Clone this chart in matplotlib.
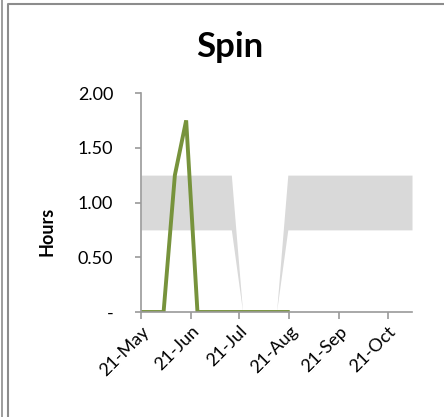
import matplotlib
matplotlib.use("Agg")
import matplotlib.pyplot as plt
import matplotlib.dates as mdates
from matplotlib.ticker import FuncFormatter
from matplotlib.lines import Line2D
import pandas as pd

# ---- data ----
title = "Spin"
ylabel = "Hours"
dates = pd.date_range("2013-05-21", periods=25, freq="7D")
band_low = [0.75]*9 + [0.0]*4 + [0.75]*12
band_height = [0.5]*9 + [0.0]*4 + [0.5]*12
actual = [0, 0, 0, 1.25, 1.75, 0, 0, 0, 0, 0, 0, 0, 0, 0]
tick_dates = pd.to_datetime(["2013-05-21", "2013-06-21", "2013-07-21",
                             "2013-08-21", "2013-09-21", "2013-10-21"])
yticks = [0, 0.5, 1.0, 1.5, 2.0]

W, H = 444, 417
fig = plt.figure(figsize=(W/100, H/100), dpi=100)
plt.rcParams['font.family'] = ['Lato', 'DejaVu Sans']

ax = fig.add_axes([141/W, 1-312/H, (412-141)/W, (312-93)/H])

upper = [l + h for l, h in zip(band_low, band_height)]
ax.fill_between(dates, band_low, upper, color="#D9D9D9", linewidth=0)
ax.plot(dates[:len(actual)], actual, color="#77933C", lw=2.8, solid_joinstyle="miter")

ax.set_xlim(dates[0], dates[-1])
ax.set_ylim(0, 2)
ax.set_yticks(yticks)
ax.yaxis.set_major_formatter(FuncFormatter(lambda v, p: "-" if v == 0 else f"{v:.2f}"))
ax.set_xticks(tick_dates)
ax.xaxis.set_major_formatter(mdates.DateFormatter("%d-%b"))

for s in ["top", "right"]:
    ax.spines[s].set_visible(False)
for s in ["left", "bottom"]:
    ax.spines[s].set_color("#9A9A9A")
    ax.spines[s].set_linewidth(1.2)
ax.tick_params(axis="both", colors="#9A9A9A", labelcolor="black", labelsize=13,
               direction="out", width=1.2)
ax.tick_params(axis="y", length=4, pad=16)
ax.tick_params(axis="x", length=5, pad=3)
for lab in ax.get_xticklabels():
    lab.set_rotation(45)
    lab.set_ha("right")
    lab.set_rotation_mode("anchor")

fig.text(230/W, 1-47/H, title, ha="center", va="center", fontsize=25, fontweight="bold")
fig.text(47/W, 1-231/H, ylabel, ha="center", va="center", rotation=90,
         fontsize=13, fontweight="bold")

# borders
fig.add_artist(Line2D([1.5/W, 1.5/W], [0, 1], transform=fig.transFigure,
                      color="#8C8C8C", lw=1.2))
fig.add_artist(Line2D([7.5/W, 7.5/W, 1.0], [0, 1-4/H, 1-4/H], transform=fig.transFigure,
                      color="#8C8C8C", lw=1.5))

fig.savefig("out.png", dpi=100)
